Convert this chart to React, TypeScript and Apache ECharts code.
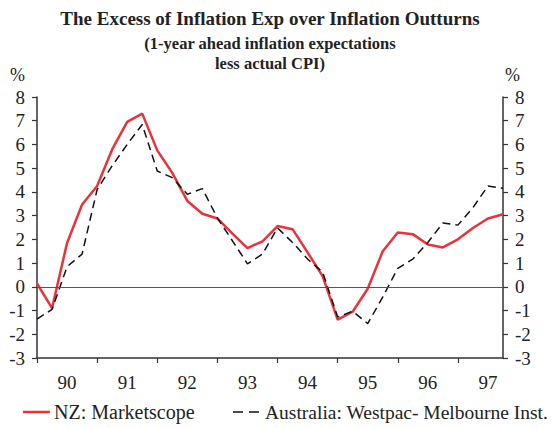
import React, { useEffect, useRef } from "react";
import * as echarts from "echarts";

const quarters = [
  "1990Q1", "1990Q2", "1990Q3", "1990Q4",
  "1991Q1", "1991Q2", "1991Q3", "1991Q4",
  "1992Q1", "1992Q2", "1992Q3", "1992Q4",
  "1993Q1", "1993Q2", "1993Q3", "1993Q4",
  "1994Q1", "1994Q2", "1994Q3", "1994Q4",
  "1995Q1", "1995Q2", "1995Q3", "1995Q4",
  "1996Q1", "1996Q2", "1996Q3", "1996Q4",
  "1997Q1", "1997Q2", "1997Q3", "1997Q4",
];

const yearLabels = ["90", "91", "92", "93", "94", "95", "96", "97"];

const nzMarketscope = [
  0.14, -0.9, 1.85, 3.47, 4.25, 5.79, 6.95, 7.3,
  5.75, 4.8, 3.62, 3.08, 2.88, 2.24, 1.63, 1.92,
  2.56, 2.43, 1.45, 0.45, -1.38, -1.05, -0.08, 1.5,
  2.29, 2.22, 1.78, 1.66, 2.0, 2.48, 2.88, 3.06,
];

const australiaWestpac = [
  -1.36, -0.95, 0.85, 1.38, 4.1, 5.1, 6.0, 6.84,
  4.88, 4.6, 3.9, 4.14, 2.9, 1.94, 0.97, 1.38,
  2.48, 1.87, 1.17, 0.62, -1.27, -1.03, -1.55, -0.43,
  0.78, 1.17, 1.87, 2.69, 2.6, 3.34, 4.25, 4.15,
];

const seriesNames = ["NZ: Marketscope", "Australia: Westpac- Melbourne Inst."];

const titleLines = [
  "The Excess of Inflation Exp over Inflation Outturns",
  "(1-year ahead inflation expectations",
  "less actual CPI)",
];

const yMin = -3;
const yMax = 8;

const SERIF = "'Liberation Serif', 'Times New Roman', serif";
const RED = "#e8333b";
const DARK = "#111";

export default function App() {
  const ref = useRef<HTMLDivElement>(null);

  useEffect(() => {
    if (!ref.current) return;
    const chart = echarts.init(ref.current, null, { renderer: "svg" });

    const yAxisBase = {
      type: "value",
      min: yMin,
      max: yMax,
      interval: 1,
      splitLine: { show: false },
      axisLine: { show: true, lineStyle: { color: "#333", width: 1.5 } },
      axisTick: { show: true, inside: false, length: 5, lineStyle: { color: "#333", width: 1.2 } },
      axisLabel: { color: "#222", fontFamily: SERIF, fontSize: 19, margin: 12 },
    };

    const titleTops = [9, 35, 55];
    const titleSizes = [19, 16.5, 16.5];

    chart.setOption({
      animation: false,
      backgroundColor: "#ffffff",
      textStyle: { fontFamily: SERIF },
      title: titleLines.map((t, i) => ({
        text: t,
        left: 270,
        top: titleTops[i],
        textAlign: "center",
        padding: 0,
        textStyle: {
          fontFamily: SERIF,
          fontWeight: "bold",
          fontSize: titleSizes[i],
          lineHeight: titleSizes[i],
          color: "#222",
        },
      })),
      graphic: [
        { type: "text", left: 10, top: 66, style: { text: "%", font: `18px ${SERIF}`, fill: "#222" } },
        { type: "text", left: 505, top: 66, style: { text: "%", font: `18px ${SERIF}`, fill: "#222" } },
        {
          type: "line",
          shape: { x1: 23, y1: 412, x2: 50, y2: 412 },
          style: { stroke: RED, lineWidth: 2.5 },
        },
        {
          type: "text",
          x: 54,
          y: 412,
          style: { text: seriesNames[0], font: `20px ${SERIF}`, fill: "#222", verticalAlign: "middle" },
        },
        {
          type: "line",
          shape: { x1: 233, y1: 412, x2: 262, y2: 412 },
          style: { stroke: DARK, lineWidth: 1.5, lineDash: [10, 6] },
        },
        {
          type: "text",
          x: 265,
          y: 412,
          style: { text: seriesNames[1], font: `19.5px ${SERIF}`, fill: "#222", verticalAlign: "middle" },
        },
      ],
      grid: { left: 37, right: 57, top: 97, bottom: 70, containLabel: false },
      xAxis: {
        type: "category",
        data: quarters,
        boundaryGap: false,
        axisLine: { show: true, onZero: false, lineStyle: { color: "#333", width: 1.5 } },
        axisTick: {
          show: true,
          length: 5,
          interval: (index: number) => index % 4 === 0,
          lineStyle: { color: "#333", width: 1.2 },
        },
        axisLabel: {
          interval: (index: number) => index % 4 === 2,
          formatter: (_v: string, index: number) => yearLabels[Math.floor(index / 4)],
          color: "#222",
          fontFamily: SERIF,
          fontSize: 19,
          margin: 15,
        },
        splitLine: { show: false },
      },
      yAxis: [
        { ...yAxisBase, position: "left" },
        { ...yAxisBase, position: "right" },
      ],
      series: [
        {
          name: seriesNames[0],
          type: "line",
          data: nzMarketscope,
          showSymbol: false,
          symbol: "none",
          lineStyle: { color: RED, width: 2.5 },
          itemStyle: { color: RED },
          z: 3,
          markLine: {
            silent: true,
            symbol: "none",
            label: { show: false },
            lineStyle: { color: "#555", width: 1, type: "solid" },
            data: [{ yAxis: 0 }],
          },
        },
        {
          name: seriesNames[1],
          type: "line",
          data: australiaWestpac,
          showSymbol: false,
          symbol: "none",
          lineStyle: { color: DARK, width: 1.5, type: [8, 5] },
          itemStyle: { color: DARK },
          z: 4,
        },
      ],
    });

    return () => chart.dispose();
  }, []);

  return (
    <div
      ref={ref}
      style={{ position: "absolute", left: 0, top: 0, width: 560, height: 428, overflow: "hidden" }}
    />
  );
}
